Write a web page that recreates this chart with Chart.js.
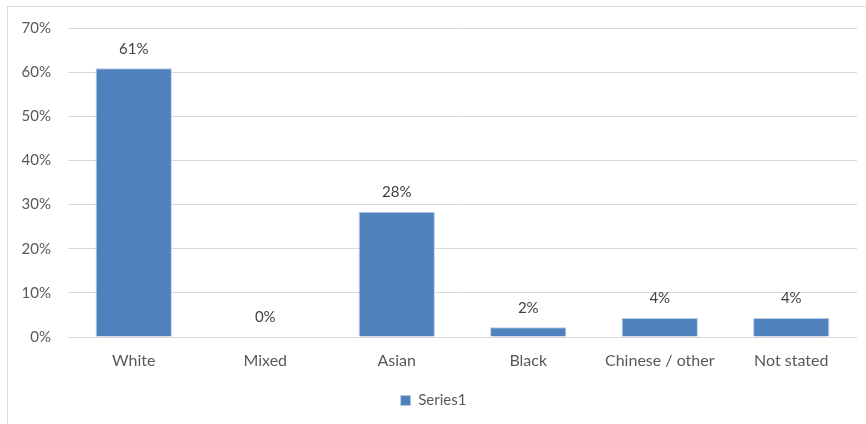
<!DOCTYPE html>
<html>
<head>
<meta charset="utf-8">
<script src="https://cdn.jsdelivr.net/npm/chart.js@4.4.1/dist/chart.umd.min.js"></script>
<style>
  html, body { margin: 0; padding: 0; background: #fff; }
  body { width: 866px; height: 424px; position: relative; overflow: hidden; }
  #frame { position: absolute; left: 7px; top: 6px; width: 870px; height: 430px;
           border: 1px solid #d9d9d9; box-sizing: border-box; }
  #wrap { position: absolute; left: 0; top: 0; width: 866px; height: 424px; }
</style>
</head>
<body>
<div id="frame"></div>
<div id="wrap"><canvas id="chart"></canvas></div>
<script>
const categories = ["White", "Mixed", "Asian", "Black", "Chinese / other", "Not stated"];
const values = [0.609, 0, 0.284, 0.022, 0.043, 0.043];
const valueLabels = ["61%", "0%", "28%", "2%", "4%", "4%"];
const yTicks = [0, 0.1, 0.2, 0.3, 0.4, 0.5, 0.6, 0.7];

const BAR_BLUE = "#4f81bd";
const FONT = "Lato, 'Open Sans', sans-serif";

// Value labels above each bar
const barLabels = {
  id: "barLabels",
  afterDatasetsDraw(chart) {
    const ctx = chart.ctx;
    const meta = chart.getDatasetMeta(0);
    ctx.save();
    ctx.font = "15px " + FONT;
    ctx.fillStyle = "#404040";
    ctx.textAlign = "center";
    ctx.textBaseline = "bottom";
    meta.data.forEach((bar, i) => {
      ctx.fillText(valueLabels[i], bar.x, bar.y - 12);
    });
    ctx.restore();
  }
};

new Chart(document.getElementById("chart"), {
  type: "bar",
  data: {
    labels: categories,
    datasets: [{
      label: "Series1",
      data: values,
      backgroundColor: BAR_BLUE,
      borderColor: "#b9cde5",
      borderWidth: { left: 1, right: 1, top: 1, bottom: 0 },
      categoryPercentage: 1,
      barPercentage: 0.58
    }]
  },
  options: {
    responsive: true,
    maintainAspectRatio: false,
    animation: false,
    layout: { padding: { left: 10, right: 9, top: 28, bottom: 6 } },
    scales: {
      x: {
        grid: { display: false },
        border: { display: false },
        ticks: { color: "#595959", font: { family: FONT, size: 16 }, padding: 6, maxRotation: 0 },
        afterFit(scale) { scale.height = 48; }
      },
      y: {
        min: 0,
        max: 0.7,
        afterBuildTicks(scale) { scale.ticks = yTicks.map(v => ({ value: v })); },
        grid: { color: "#d9d9d9", lineWidth: 1, drawTicks: false },
        border: { display: false },
        ticks: {
          color: "#595959",
          font: { family: FONT, size: 15 },
          padding: 17,
          callback: v => Math.round(v * 100) + "%"
        },
        afterFit(scale) { scale.width = 58; }
      }
    },
    plugins: {
      legend: {
        position: "bottom",
        labels: {
          color: "#595959",
          font: { family: FONT, size: 15 },
          boxWidth: 10,
          boxHeight: 10,
          padding: 8
        }
      },
      tooltip: { enabled: false }
    }
  },
  plugins: [barLabels]
});
</script>
</body>
</html>
